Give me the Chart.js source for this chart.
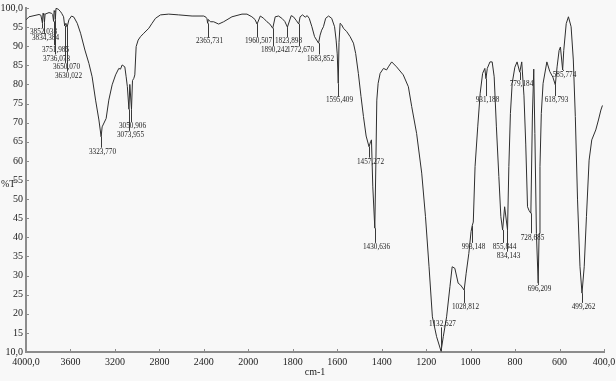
<!DOCTYPE html>
<html>
<head>
<meta charset="utf-8">
<script src="https://cdn.jsdelivr.net/npm/chart.js@4.4.1/dist/chart.umd.min.js"></script>
<style>
  html, body { margin: 0; padding: 0; background: #f8f8f8; }
  canvas { display: block; }
</style>
</head>
<body>
<canvas id="irChart" width="616" height="381"></canvas>
<script>
// IR spectrum, %T against wavenumber.
// The instrument plots 4000-2000 cm-1 at 400/div and 2000-400 cm-1 at 200/div.

const wavenumbers = [
  4000, 3973, 3928, 3883, 3866, 3852, 3847, 3840, 3834, 3828,
  3793, 3769, 3760, 3752, 3747, 3740, 3736, 3730, 3710, 3688,
  3679, 3662, 3652, 3641, 3630, 3614, 3590, 3569, 3539, 3509,
  3470, 3434, 3405, 3374, 3344, 3324, 3315, 3279, 3255, 3225,
  3194, 3165, 3150, 3135, 3111, 3099, 3088, 3074, 3066, 3051,
  3042, 3030, 3021, 3009, 2991, 2970, 2940, 2895, 2866, 2835,
  2790, 2716, 2626, 2506, 2401, 2381, 2372, 2366, 2360, 2341,
  2312, 2267, 2222, 2147, 2057, 2012, 1984, 1970, 1960.5, 1946,
  1931, 1916, 1903, 1890, 1879, 1864, 1849, 1836, 1824, 1807,
  1797, 1785, 1773, 1767, 1756, 1744, 1735, 1726, 1714, 1702,
  1684, 1677, 1670, 1662, 1652, 1639, 1625, 1612, 1605, 1600,
  1595.4, 1592, 1587, 1580, 1572, 1557, 1542, 1527, 1517, 1505,
  1493, 1482, 1470, 1457, 1450, 1446, 1440, 1431, 1426, 1422,
  1416, 1407, 1392, 1378, 1370, 1355, 1333, 1303, 1280, 1265,
  1243, 1220, 1203, 1187, 1172, 1153, 1133, 1123, 1108, 1093,
  1083, 1071, 1056, 1045, 1029, 1020, 1008, 998, 993, 988,
  980, 968, 957, 946, 936, 931, 925, 913, 903, 894,
  884, 873, 864, 856, 847, 834, 828, 821, 813, 801,
  791, 779, 770, 760, 752, 744, 737, 729, 722, 716,
  711, 704, 696, 692, 688, 682, 674, 657, 644, 630,
  619, 611, 602, 596, 586, 581, 570, 560, 548, 538,
  529, 519, 508, 499, 489, 479, 467, 455, 437, 425,
  414, 407
];

const transmittance = [
  96.9, 97.7, 98.0, 98.3, 98.1, 96.0, 98.6, 98.2, 96.3, 98.4,
  98.8, 98.6, 98.3, 96.5, 99.3, 99.0, 97.0, 99.9, 99.7, 99.0,
  98.6, 97.7, 95.3, 96.0, 95.0, 96.9, 97.9, 97.6, 96.0, 93.4,
  89.0, 85.5, 82.0, 75.9, 70.7, 66.3, 68.9, 71.1, 75.9, 79.9,
  82.5, 84.2, 84.0, 85.1, 84.6, 82.0, 79.4, 73.5, 80.0, 73.5,
  81.0, 81.6, 82.5, 89.9, 91.6, 92.5, 93.4, 94.7, 96.0, 97.3,
  98.2, 98.4, 98.2, 97.9, 97.9, 97.6, 97.2, 96.0, 97.0, 96.4,
  96.4, 95.8, 96.4, 97.7, 98.4, 98.4, 97.7, 97.0, 95.8, 97.9,
  97.3, 96.4, 95.8, 94.7, 97.7, 97.9, 97.3, 96.5, 95.0, 98.0,
  97.7, 96.8, 95.8, 97.7, 98.2, 97.6, 98.0, 97.3, 95.1, 92.5,
  90.8, 92.9, 94.2, 95.1, 97.3, 97.9, 97.3, 95.1, 91.6, 88.0,
  80.3, 91.0, 96.0, 95.6, 94.7, 93.8, 92.5, 90.8, 88.1, 82.9,
  76.8, 71.6, 66.5, 63.7, 65.0, 65.5, 53.2, 42.4, 60.2, 75.9,
  80.3, 82.9, 84.2, 83.8, 84.6, 85.9, 84.6, 82.5, 79.4, 74.2,
  67.2, 56.8, 45.4, 32.3, 19.2, 14.0, 10.2, 14.0, 19.2, 27.1,
  32.3, 31.9, 28.0, 27.5, 26.2, 30.6, 35.8, 41.5, 43.0, 44.0,
  58.5, 68.9, 77.7, 82.9, 84.2, 81.5, 84.2, 85.9, 85.9, 82.0,
  68.9, 55.9, 45.4, 41.9, 48.0, 41.9, 58.5, 72.4, 80.3, 84.5,
  85.9, 83.2, 85.9, 77.0, 64.4, 48.0, 47.0, 46.3, 72.0, 84.0,
  67.2, 41.0, 28.0, 41.0, 58.5, 72.4, 80.3, 85.9, 83.4, 81.9,
  79.9, 84.6, 88.9, 89.8, 83.8, 88.9, 95.9, 97.7, 95.1, 86.4,
  71.6, 49.8, 32.3, 25.4, 32.3, 45.4, 60.2, 65.5, 68.1, 70.7,
  73.3, 74.5
];

// labelled peaks: position, %T at the peak, %T level where its label sits
const peakWavenumbers = [
  3852.038, 3834.384, 3751.985, 3736.073, 3650.070, 3630.022, 3323.770, 3073.955, 3050.906, 2365.731,
  1960.507, 1890.242, 1823.898, 1772.670, 1683.852, 1595.409, 1457.272, 1430.636, 1132.627, 1028.812,
  993.148, 931.188, 855.844, 834.143, 779.184, 728.685, 696.209, 618.793, 585.774, 499.262
];
const peakTransmittance = [
  96.0, 96.3, 96.5, 97.0, 95.3, 95.0, 66.3, 73.5, 73.5, 96.0,
  95.8, 94.7, 95.0, 95.8, 90.8, 80.3, 63.7, 42.4, 10.2, 26.2,
  43.0, 81.5, 41.9, 41.9, 83.2, 46.3, 28.0, 79.9, 83.8, 25.4
];
const peakLabelLevel = [
  93.7, 92.1, 89.2, 86.8, 84.6, 82.3, 62.4, 66.8, 69.1, 91.3,
  91.3, 89.0, 91.3, 89.0, 86.8, 75.9, 59.8, 37.5, 17.5, 21.8,
  37.5, 75.9, 37.5, 35.2, 80.1, 40.0, 26.5, 75.9, 82.5, 21.8
];

const xTickWavenumbers = [4000, 3600, 3200, 2800, 2400, 2000, 1800, 1600, 1400, 1200, 1000, 800, 600, 400];
const xTickLabels = ['4000,0', '3600', '3200', '2800', '2400', '2000', '1800', '1600', '1400', '1200', '1000', '800', '600', '400,0'];
const yTickValues = [10, 15, 20, 25, 30, 35, 40, 45, 50, 55, 60, 65, 70, 75, 80, 85, 90, 95, 100];
const yTickLabels = ['10,0', '15', '20', '25', '30', '35', '40', '45', '50', '55', '60', '65', '70', '75', '80', '85', '90', '95', '100,0'];

const AXIS_GREY = '#8c8c8c';
const INK = '#222';
const SERIF = '"Liberation Serif", "Times New Roman", serif';

// map wavenumber onto the split axis (0..13 divisions)
function toAxis(wn) {
  return wn >= 2000 ? (4000 - wn) / 400 : 5 + (2000 - wn) / 200;
}

const irDecor = {
  id: 'irDecor',
  afterDatasetsDraw(chart) {
    const { ctx, chartArea: a, scales: { x, y } } = chart;
    ctx.save();

    // small inward tick marks
    ctx.strokeStyle = AXIS_GREY;
    ctx.lineWidth = 1;
    ctx.beginPath();
    x.ticks.forEach(t => {
      const px = Math.round(x.getPixelForValue(t.value)) + 0.5;
      ctx.moveTo(px, a.bottom);
      ctx.lineTo(px, a.bottom - 3);
    });
    y.ticks.forEach(t => {
      const py = Math.round(y.getPixelForValue(t.value)) + 0.5;
      ctx.moveTo(a.left, py);
      ctx.lineTo(a.left + 3, py);
    });
    ctx.stroke();

    // peak picks
    ctx.strokeStyle = '#3a3a3a';
    ctx.fillStyle = INK;
    ctx.font = '8.5px ' + SERIF;
    ctx.textAlign = 'center';
    ctx.textBaseline = 'middle';
    peakWavenumbers.forEach((w, i) => {
      const px = Math.round(x.getPixelForValue(toAxis(w))) + 0.5;
      const py = y.getPixelForValue(peakTransmittance[i]);
      const ly = y.getPixelForValue(peakLabelLevel[i]);
      const end = ly > py ? ly - 4 : ly + 4;
      ctx.beginPath();
      ctx.moveTo(px, py);
      ctx.lineTo(px, end);
      ctx.stroke();
      ctx.save();
      ctx.translate(px + 1, ly);
      ctx.scale(0.85, 1);
      ctx.fillText(w.toFixed(3).replace('.', ','), 0, 0);
      ctx.restore();
    });

    // axis titles
    ctx.font = '10px ' + SERIF;
    ctx.textAlign = 'left';
    ctx.fillText('%T', 1, (a.top + a.bottom) / 2 + 4);
    ctx.textAlign = 'center';
    ctx.fillText('cm-1', (a.left + a.right) / 2, x.bottom - 9);
    ctx.restore();
  }
};

new Chart(document.getElementById('irChart'), {
  type: 'line',
  data: {
    datasets: [{
      data: wavenumbers.map((w, i) => ({ x: toAxis(w), y: transmittance[i] })),
      borderColor: '#2e2e2e',
      borderWidth: 1,
      pointRadius: 0,
      tension: 0,
      fill: false
    }]
  },
  options: {
    responsive: false,
    animation: false,
    devicePixelRatio: 1,
    layout: { padding: { top: 8, right: 12, left: 0, bottom: 0 } },
    plugins: { legend: { display: false }, tooltip: { enabled: false } },
    scales: {
      x: {
        type: 'linear',
        min: 0,
        max: 13,
        grid: { display: false, drawTicks: false },
        border: { display: true, color: AXIS_GREY, width: 2 },
        ticks: {
          color: INK,
          font: { family: SERIF, size: 10 },
          padding: 4,
          maxRotation: 0,
          autoSkip: false,
          callback: (v, i) => xTickLabels[i]
        },
        afterBuildTicks: s => { s.ticks = xTickWavenumbers.map(w => ({ value: toAxis(w) })); },
        afterFit: s => { s.height = 29; s.paddingLeft = 0; s.paddingRight = 0; }
      },
      y: {
        min: 10,
        max: 100,
        grid: { display: false, drawTicks: false },
        border: { display: true, color: AXIS_GREY, width: 2 },
        ticks: {
          color: INK,
          font: { family: SERIF, size: 10 },
          padding: 3,
          autoSkip: false,
          callback: (v, i) => yTickLabels[i]
        },
        afterBuildTicks: s => { s.ticks = yTickValues.map(v => ({ value: v })); },
        afterFit: s => { s.width = 26; s.paddingTop = 0; s.paddingBottom = 0; }
      }
    }
  },
  plugins: [irDecor]
});
</script>
</body>
</html>
